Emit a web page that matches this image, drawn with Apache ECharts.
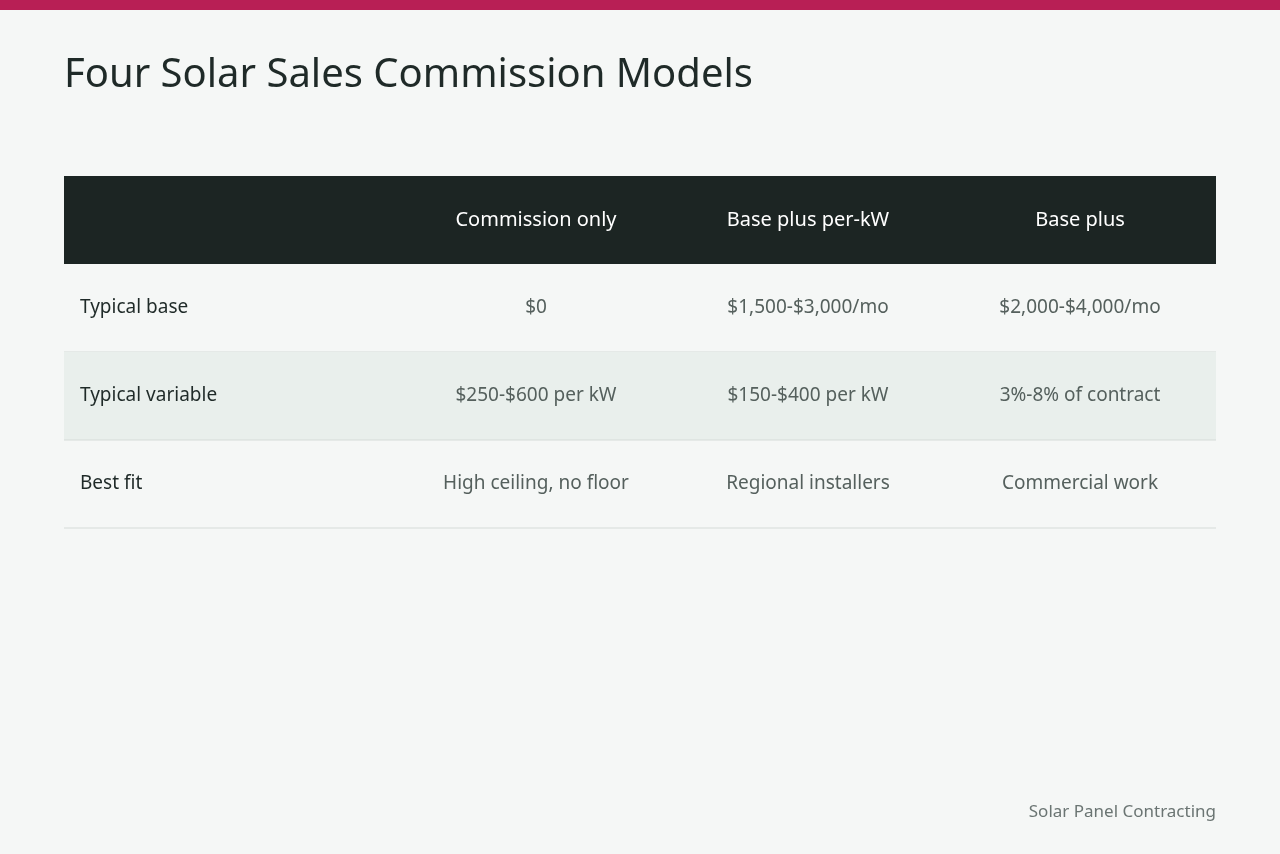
<!DOCTYPE html>
<html><head><meta charset="utf-8">
<script src="https://cdn.jsdelivr.net/npm/echarts@6/dist/echarts.min.js"></script>
<style>html,body{margin:0;padding:0;background:#f5f7f6}#c{width:1280px;height:854px}</style>
</head><body><div id="c"></div>
<script>
const title = "Four Solar Sales Commission Models";
const columns = ["Commission only", "Base plus per-kW", "Base plus"];
const rowLabels = ["Typical base", "Typical variable", "Best fit"];
const colCommissionOnly = ["$0", "$250-$600 per kW", "High ceiling, no floor"];
const colBasePerKW = ["$1,500-$3,000/mo", "$150-$400 per kW", "Regional installers"];
const colBasePlus = ["$2,000-$4,000/mo", "3%-8% of contract", "Commercial work"];
const source = "Solar Panel Contracting";

const font = "'Noto Sans', 'Open Sans', sans-serif";
const L = 64, R = 1216, headTop = 176, rowH = 88;
const colX = [536, 808, 1080];
const cols = [colCommissionOnly, colBasePerKW, colBasePlus];
const g = [];
g.push({type:'rect', shape:{x:0,y:0,width:1280,height:10}, style:{fill:'#b81f55'}});
g.push({type:'text', left:64, top:56, style:{text:title, font:'400 40px '+font, fill:'#1f2a28'}});
g.push({type:'rect', shape:{x:L,y:headTop,width:R-L,height:rowH}, style:{fill:'#1c2523'}});
columns.forEach((c,i)=>g.push({type:'text', x:colX[i], y:headTop+rowH/2, style:{text:c, font:'400 20px '+font, fill:'#ffffff', textAlign:'center', textVerticalAlign:'middle'}}));
rowLabels.forEach((lab,r)=>{
  const y0 = headTop + rowH*(r+1);
  if (r===1) g.push({type:'rect', shape:{x:L,y:y0,width:R-L,height:rowH}, style:{fill:'#e9efec'}});
  g.push({type:'line', shape:{x1:L,y1:y0+rowH,x2:R,y2:y0+rowH}, style:{stroke:'#d5dbd8',lineWidth:1}});
  g.push({type:'text', x:80, y:y0+rowH/2, style:{text:lab, font:'400 19px '+font, fill:'#1f2a28', textVerticalAlign:'middle'}});
  cols.forEach((col,i)=>g.push({type:'text', x:colX[i], y:y0+rowH/2, style:{text:col[r], font:'400 19px '+font, fill:'#55605d', textAlign:'center', textVerticalAlign:'middle'}}));
});
g.push({type:'text', x:R, y:812, style:{text:source, font:'400 17px '+font, fill:'#6b7573', textAlign:'right', textVerticalAlign:'middle'}});
const chart = echarts.init(document.getElementById('c'));
chart.setOption({backgroundColor:'#f5f7f6', graphic:g});
</script></body></html>
